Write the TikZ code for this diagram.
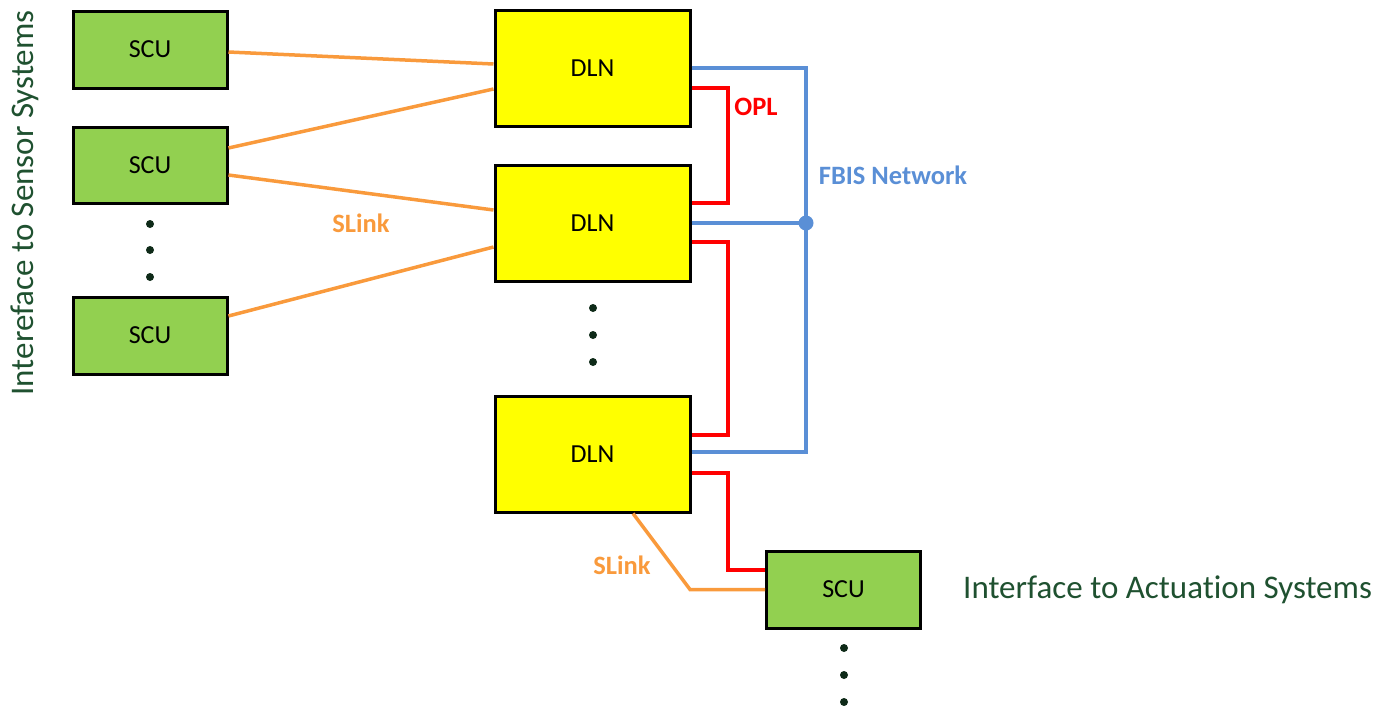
\documentclass[tikz,border=0pt]{standalone}
\usepackage{fontspec}
\setmainfont[Ligatures=NoCommon]{Carlito}
\usetikzlibrary{calc}
\definecolor{scugreen}{HTML}{92D050}
\definecolor{dlnyellow}{HTML}{FFFF00}
\definecolor{slinkorange}{HTML}{F99A3C}
\definecolor{fbisblue}{HTML}{5A8FD6}
\definecolor{oplred}{HTML}{FF0000}
\definecolor{ifgreen}{HTML}{1F5130}
\definecolor{dotgreen}{HTML}{0E2A18}
\tikzset{
  unit/.style={draw=black, line width=3pt, minimum width=154pt, minimum height=77pt,
    inner sep=0pt, font=\fontsize{26}{26}\selectfont},
  scubox/.style={unit, fill=scugreen},
  dlnbox/.style={unit, fill=dlnyellow, minimum width=195pt, minimum height=116pt},
  slink/.style={draw=slinkorange, line width=3.5pt},
  opl/.style={draw=oplred, line width=4pt},
  fbisnet/.style={draw=fbisblue, line width=3.5pt},
  tag/.style={font=\fontsize{26.5}{26.5}\selectfont\bfseries},
  iface/.style={text=ifgreen, font=\fontsize{33}{33}\selectfont},
  vdot/.style={circle, fill=dotgreen, inner sep=0pt, minimum size=8pt},
}
\begin{document}
\begin{tikzpicture}[x=1pt, y=-1pt]
  \useasboundingbox (0,0) rectangle (1373,705);

  % sensor-side concentrator units
  \node[scubox] (scu1) at (150,49.5) {SCU};
  \node[scubox, minimum height=76pt] (scu2) at (150,165) {SCU};
  \node[scubox] (scu3) at (150,335.5) {SCU};
  \node[vdot] (d1) at (150,224) {};
  \node[vdot] (d2) at (150,250) {};
  \node[vdot] (d3) at (150,277) {};

  % distributed logic nodes
  \node[dlnbox] (dln1) at (592.5,68) {DLN};
  \node[dlnbox] (dln2) at (592.5,223) {DLN};
  \node[dlnbox] (dln3) at (592.5,454) {DLN};
  \node[vdot] (d4) at (593,308) {};
  \node[vdot] (d5) at (593,335) {};
  \node[vdot] (d6) at (593,362) {};

  % actuation-side unit
  \node[scubox] (scu4) at (843.5,589.5) {SCU};
  \node[vdot] (d7) at (844,648) {};
  \node[vdot] (d8) at (844,675) {};
  \node[vdot] (d9) at (844,702) {};

  % SLink connections
  \draw[slink] ([yshift=-2.5pt]scu1.east) -- ([yshift=4pt]dln1.west);
  \draw[slink] ([yshift=17pt]scu2.east) -- ([yshift=-21pt]dln1.west);
  \draw[slink] ([yshift=-10pt]scu2.east) -- ([yshift=13pt]dln2.west);
  \draw[slink] ([yshift=19.5pt]scu3.east) -- ([yshift=-24pt]dln2.west);
  \coordinate (sbend) at (690,589.5);
  \draw[slink] ([xshift=40.5pt]dln3.south) -- (sbend) -- (scu4.west);

  % OPL ring
  \draw[opl] ([yshift=-20pt]dln1.east) -- ++(36,0) |- ([yshift=20pt]dln2.east);
  \draw[opl] ([yshift=-19pt]dln2.east) -- ++(36,0) |- ([yshift=19pt]dln3.east);
  \draw[opl] ([yshift=-19pt]dln3.east) -- ++(36,0) |- ([yshift=19.5pt]scu4.west);

  % FBIS network
  \coordinate (fbis) at (806,223);
  \draw[fbisnet] (dln1.east) -| (fbis) |- ([yshift=2pt]dln3.east);
  \draw[fbisnet] (dln2.east) -- (fbis);
  \fill[fbisblue] (fbis) circle (7.5pt);

  % labels
  \node[tag, text=slinkorange] (lsl1) at (361,223) {SLink};
  \node[tag, text=slinkorange] (lsl2) at (622,565) {SLink};
  \node[tag, text=oplred] (lopl) at (756,107) {OPL};
  \node[tag, text=fbisblue] (lfbis) at (893,175) {FBIS Network};
  \node[iface, anchor=west, inner sep=0pt] (iact) at (963,590) {Interface to Actuation Systems};
  \node[iface, rotate=90, inner sep=0pt] (isen) at (25,203) {Intereface to Sensor Systems};
\end{tikzpicture}
\end{document}
